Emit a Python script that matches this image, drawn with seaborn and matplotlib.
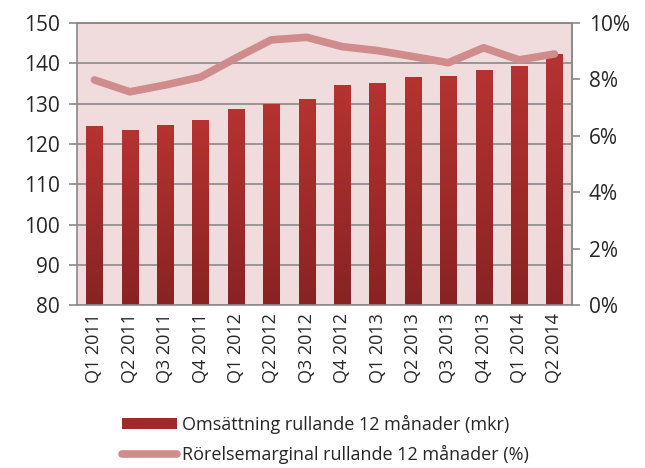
import numpy as np
import pandas as pd
import matplotlib.pyplot as plt
import matplotlib.colors as mcolors
from matplotlib.ticker import FuncFormatter, FixedLocator
from matplotlib.patches import Patch
from matplotlib.lines import Line2D
import seaborn as sns

quarters = ['Q1 2011', 'Q2 2011', 'Q3 2011', 'Q4 2011',
            'Q1 2012', 'Q2 2012', 'Q3 2012', 'Q4 2012',
            'Q1 2013', 'Q2 2013', 'Q3 2013', 'Q4 2013',
            'Q1 2014', 'Q2 2014']
revenue = [124.4, 123.5, 124.7, 126.0, 128.7, 129.9, 131.1,
           134.6, 135.1, 136.6, 136.8, 138.3, 139.3, 142.3]
margin = [7.98, 7.56, 7.80, 8.08, 8.76, 9.40, 9.49,
          9.16, 9.02, 8.81, 8.59, 9.12, 8.69, 8.90]

bar_label = 'Omsättning rullande 12 månader (mkr)'
line_label = 'Rörelsemarginal rullande 12 månader (%)'

df = pd.DataFrame({'quarter': quarters, 'revenue': revenue, 'margin': margin})

sns.set_style('white')
plt.rcParams['font.family'] = ['Open Sans', 'DejaVu Sans']

grid_col = '#8a8a8a'
bg_col = '#f0dcdc'
line_col = '#d08c8c'

fig = plt.figure(figsize=(6.45, 4.68), dpi=100)
ax = fig.add_axes([0.119, 0.348, 0.768, 0.603])
ax.set_facecolor(bg_col)

sns.barplot(data=df, x='quarter', y='revenue', color='#a52a2a', width=0.46,
            saturation=1, ax=ax, zorder=2)

# vertical gradient on the bars
cmap = mcolors.LinearSegmentedColormap.from_list('bar', ['#882323', '#b63330'])
grad = np.linspace(0, 1, 256).reshape(-1, 1)
for p in ax.patches:
    x0, w = p.get_x(), p.get_width()
    top = p.get_y() + p.get_height()
    im = ax.imshow(grad, cmap=cmap, aspect='auto', origin='lower',
                   extent=[x0, x0 + w, 80, top], zorder=2.1)
    im.set_clip_path(p)
    p.set_edgecolor('none')

ax.set_xlim(-0.5, len(quarters) - 0.5)
ax.set_ylim(80, 150)
ax.set_yticks(range(80, 151, 10))
ax.yaxis.grid(True, color=grid_col, linewidth=1.2, zorder=1)
ax.set_axisbelow(True)
ax.set_xlabel('')
ax.set_ylabel('')
ax.set_xticks(range(len(quarters)))
ax.set_xticklabels(quarters, rotation=90, fontsize=13)
ax.tick_params(axis='x', length=0, pad=6)
ax.xaxis.set_minor_locator(FixedLocator(np.arange(-0.5, len(quarters), 1)))
ax.tick_params(axis='x', which='minor', length=6, width=1.2, color=grid_col, direction='out')
ax.tick_params(axis='y', length=6, width=1.2, color=grid_col, direction='out',
               labelsize=15, pad=6)
for s in ax.spines.values():
    s.set_color(grid_col)
    s.set_linewidth(1.2)

ax2 = ax.twinx()
sns.lineplot(data=df, x='quarter', y='margin', sort=False, color=line_col,
             linewidth=5.5, ax=ax2, solid_capstyle='round', solid_joinstyle='round',
             zorder=3)
ax2.set_ylim(0, 10)
ax2.set_yticks(range(0, 11, 2))
ax2.yaxis.set_major_formatter(FuncFormatter(lambda v, _: f'{v:.0f}%'))
ax2.set_ylabel('')
ax2.tick_params(axis='y', length=6, width=1.2, color=grid_col, direction='out',
                labelsize=15, pad=6)
for s in ax2.spines.values():
    s.set_color(grid_col)
    s.set_linewidth(1.2)
ax2.spines['left'].set_visible(False)
ax2.spines['bottom'].set_visible(False)

handles = [Patch(facecolor='#a02a2a', edgecolor='none'),
           Line2D([0], [0], color=line_col, linewidth=5.5, solid_capstyle='round')]
fig.legend(handles, [bar_label, line_label], loc='lower center',
           bbox_to_anchor=(0.505, -0.026), ncol=1, frameon=False, fontsize=13,
           handlelength=3.0, handleheight=0.6, handletextpad=0.3, labelspacing=0.6)

fig.savefig('out.png', dpi=100)
